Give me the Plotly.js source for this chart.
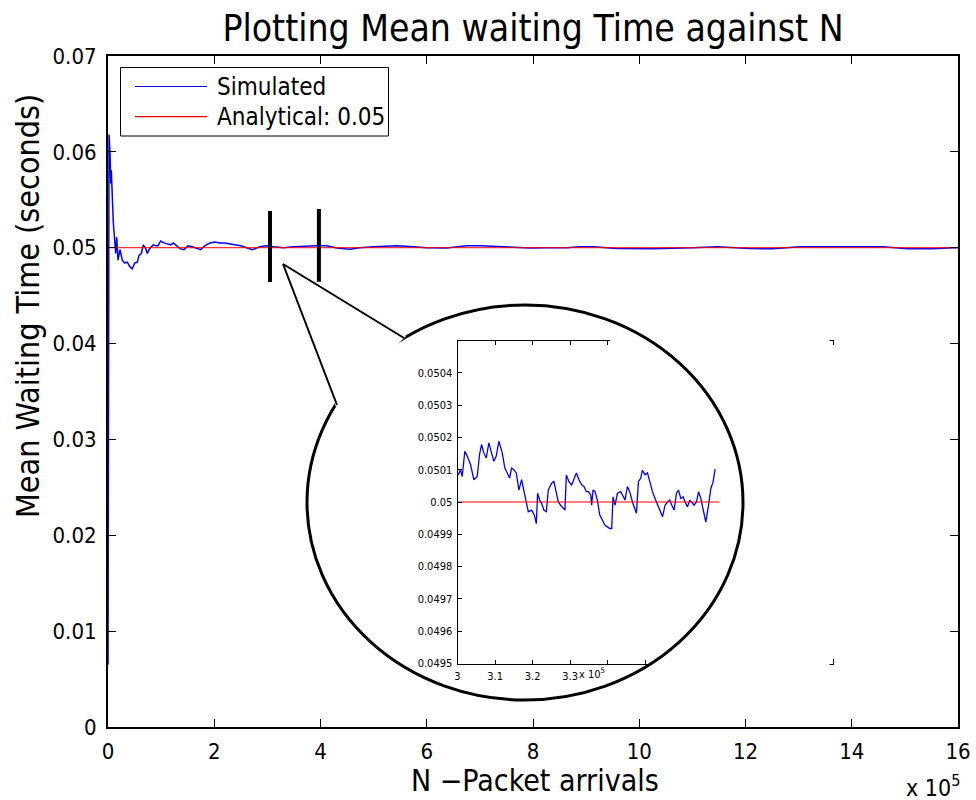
<!DOCTYPE html>
<html><head><meta charset="utf-8">
<script src="https://cdn.plot.ly/plotly-3.0.1.min.js"></script>
<style>html,body{margin:0;padding:0;background:#fff}#chart{width:976px;height:800px}</style>
</head><body><div id="chart"></div>
<script>
// ---------- data (N in units of 1e5 packets) ----------
const seriesNames = ['Simulated', 'Analytical: 0.05'];
const analyticalValue = 0.05;
const mainXRange = [0, 16];
const mainXTicks = [0, 2, 4, 6, 8, 10, 12, 14, 16];
const mainYTicks = [0, 0.01, 0.02, 0.03, 0.04, 0.05, 0.06, 0.07];
const mainYTickText = ['0', '0.01', '0.02', '0.03', '0.04', '0.05', '0.06', '0.07'];

const mainN = [0.001, 0.019, 0.038, 0.051, 0.062, 0.081, 0.100, 0.126, 0.145, 0.164,
  0.188, 0.226, 0.269, 0.314, 0.363, 0.414, 0.457, 0.503, 0.552, 0.584,
  0.627, 0.664, 0.710, 0.740, 0.772, 0.815, 0.853, 0.898, 0.941, 0.992,
  1.054, 1.116, 1.180, 1.229, 1.293, 1.355, 1.431, 1.506, 1.587, 1.670,
  1.745, 1.820, 1.920, 2.008, 2.108, 2.197, 2.296, 2.404, 2.498, 2.611,
  2.716, 2.861, 2.987, 3.111, 3.300, 3.488, 3.740, 3.928, 4.117, 4.305,
  4.555, 4.744, 4.994, 5.246, 5.434, 5.747, 5.999, 6.376, 6.752, 7.002,
  7.379, 7.693, 7.944, 8.258, 8.634, 8.885, 9.135, 9.576, 10.259, 11.012,
  11.464, 12.085, 12.518, 13.026, 13.647, 14.588, 15.040, 15.529, 15.906, 16.0];
const mainWait = [0.0065, 0.0618, 0.0599, 0.0567, 0.0581, 0.0550, 0.0526, 0.0508, 0.0494, 0.0511,
  0.0487, 0.0498, 0.0487, 0.0484, 0.0485, 0.0480, 0.0478, 0.0484, 0.0485, 0.0492,
  0.0494, 0.0503, 0.0499, 0.0494, 0.0498, 0.0501, 0.0503, 0.0502, 0.0502, 0.0507,
  0.0505, 0.0504, 0.0503, 0.0505, 0.0502, 0.0499, 0.0498, 0.0502, 0.0501, 0.0499,
  0.0498, 0.0502, 0.0505, 0.0506, 0.0505, 0.0505, 0.0504, 0.0503, 0.0502, 0.0500,
  0.0498, 0.0501, 0.0502, 0.0501, 0.0500, 0.0501, 0.0502, 0.0502, 0.0502, 0.04997,
  0.04983, 0.0500, 0.0501, 0.0502, 0.0502, 0.0501, 0.0500, 0.04997, 0.0502, 0.0502,
  0.0501, 0.04997, 0.04997, 0.0500, 0.0500, 0.0501, 0.0501, 0.04992, 0.0499, 0.0500,
  0.0501, 0.04991, 0.0499, 0.0501, 0.0501, 0.0501, 0.0499, 0.0499, 0.0500, 0.0500];

// zoomed window (inset)
const zoomXRange = [3, 4];
const zoomYRange = [0.0495, 0.0505];
const zoomXTicks = [3, 3.1, 3.2, 3.3];
const zoomXTickText = ['3', '3.1', '3.2', '3.3'];
const zoomXMinorTicks = [3.4, 3.5, 3.6, 3.7, 3.8, 3.9];
const zoomYTicks = [0.0495, 0.0496, 0.0497, 0.0498, 0.0499, 0.05, 0.0501, 0.0502, 0.0503, 0.0504];
const zoomYTickText = ['0.0495', '0.0496', '0.0497', '0.0498', '0.0499', '0.05', '0.0501', '0.0502', '0.0503', '0.0504'];
const zoomAnalyticalN = [3.0, 3.697];
const zoomN = [3.0019, 3.0080, 3.0125, 3.0195, 3.0259, 3.0347, 3.0435, 3.0525, 3.0587, 3.0640,
  3.0701, 3.0765, 3.0835, 3.0907, 3.0968, 3.1032, 3.1101, 3.1192, 3.1261, 3.1325,
  3.1387, 3.1440, 3.1501, 3.1565, 3.1635, 3.1707, 3.1768, 3.1832, 3.1885, 3.1973,
  3.2045, 3.2099, 3.2133, 3.2187, 3.2240, 3.2301, 3.2365, 3.2419, 3.2507, 3.2568,
  3.2613, 3.2685, 3.2747, 3.2808, 3.2861, 3.2899, 3.2968, 3.3040, 3.3101, 3.3165,
  3.3235, 3.3307, 3.3368, 3.3432, 3.3485, 3.3547, 3.3573, 3.3608, 3.3661, 3.3725,
  3.3787, 3.3859, 3.3928, 3.3992, 3.4053, 3.4107, 3.4141, 3.4195, 3.4259, 3.4347,
  3.4408, 3.4461, 3.4525, 3.4587, 3.4659, 3.4728, 3.4765, 3.4819, 3.4880, 3.4925,
  3.4995, 3.5059, 3.5120, 3.5192, 3.5261, 3.5325, 3.5387, 3.5459, 3.5528, 3.5592,
  3.5653, 3.5707, 3.5768, 3.5832, 3.5885, 3.5947, 3.6008, 3.6061, 3.6125, 3.6187,
  3.6240, 3.6301, 3.6365, 3.6419, 3.6480, 3.6541, 3.6613, 3.6685, 3.6747, 3.6808,
  3.6861];
const zoomWait = [0.050084, 0.050100, 0.050079, 0.050157, 0.050142, 0.050116, 0.050069, 0.050079, 0.050147, 0.050178,
  0.050152, 0.050136, 0.050183, 0.050147, 0.050126, 0.050142, 0.050188, 0.050152, 0.050105, 0.050090,
  0.050074, 0.050105, 0.050100, 0.050090, 0.050037, 0.050069, 0.050037, 0.050000, 0.049970, 0.049975,
  0.049960, 0.049933, 0.050027, 0.050006, 0.049996, 0.049975, 0.049970, 0.050037, 0.050058, 0.050063,
  0.050037, 0.050000, 0.049990, 0.049980, 0.049975, 0.050084, 0.050063, 0.050053, 0.050069, 0.050090,
  0.050069, 0.050053, 0.050048, 0.050032, 0.050032, 0.050022, 0.049990, 0.050037, 0.050032, 0.050006,
  0.049960, 0.049943, 0.049928, 0.049923, 0.049918, 0.049918, 0.050016, 0.049990, 0.050027, 0.050032,
  0.050016, 0.050006, 0.050048, 0.050032, 0.050000, 0.049980, 0.049965, 0.050063, 0.050074, 0.050098,
  0.050084, 0.050090, 0.050063, 0.050032, 0.050011, 0.049990, 0.049975, 0.049954, 0.049990, 0.050000,
  0.050006, 0.049990, 0.049975, 0.050027, 0.050037, 0.050011, 0.050016, 0.050000, 0.049985, 0.050006,
  0.050000, 0.049990, 0.050000, 0.050032, 0.050011, 0.049980, 0.049938, 0.049990, 0.050042, 0.050063,
  0.050102];

// ---------- layout helpers (pixel -> paper) ----------
const W = 976, H = 800, ML = 108, MR = 18, MT = 56, MB = 73;
const PW = W - ML - MR, PH = H - MT - MB;
const X = px => (px - ML) / PW;
const Y = py => (H - MB - py) / PH;
const FONT = '"DejaVu Sans Condensed", "DejaVu Sans", sans-serif';
const BLUE = '#0000ff', RED = '#ff0000';

const traces = [
  {x: mainN, y: mainWait, xaxis: 'x', yaxis: 'y', mode: 'lines', name: seriesNames[0],
   line: {color: BLUE, width: 1.5}, showlegend: false, hoverinfo: 'skip'},
  {x: mainXRange, y: [analyticalValue, analyticalValue], xaxis: 'x', yaxis: 'y', mode: 'lines',
   name: seriesNames[1], line: {color: RED, width: 1}, showlegend: false, hoverinfo: 'skip'},
  {x: zoomN, y: zoomWait, xaxis: 'x2', yaxis: 'y2', mode: 'lines', name: seriesNames[0],
   line: {color: BLUE, width: 1.3}, showlegend: false, hoverinfo: 'skip'},
  {x: zoomAnalyticalN, y: [analyticalValue, analyticalValue], xaxis: 'x2', yaxis: 'y2', mode: 'lines',
   name: seriesNames[1], line: {color: RED, width: 1}, showlegend: false, hoverinfo: 'skip'}
];

const axBase = {showgrid: false, zeroline: false, showline: true, linecolor: '#000', mirror: 'ticks',
  ticks: 'inside', tickcolor: '#000', fixedrange: true};

const shapes = [
  // legend box and samples
  {type: 'rect', xref: 'paper', yref: 'paper', x0: X(120.5), x1: X(388.5), y0: Y(136), y1: Y(67.5),
   line: {color: '#000', width: 1}, fillcolor: '#fff', layer: 'above'},
  {type: 'line', xref: 'paper', yref: 'paper', x0: X(135), x1: X(207), y0: Y(86.5), y1: Y(86.5),
   line: {color: BLUE, width: 1.2}, layer: 'above'},
  {type: 'line', xref: 'paper', yref: 'paper', x0: X(135), x1: X(207), y0: Y(116.7), y1: Y(116.7),
   line: {color: RED, width: 1.2}, layer: 'above'},
  // zoom window markers on main curve
  {type: 'line', xref: 'x', yref: 'y', x0: 3.05, x1: 3.05, y0: 0.04642, y1: 0.05383,
   line: {color: '#000', width: 4}, layer: 'above'},
  {type: 'line', xref: 'x', yref: 'y', x0: 3.97, x1: 3.97, y0: 0.04645, y1: 0.05404,
   line: {color: '#000', width: 4}, layer: 'above'},
  // masks hiding inset axes outside the bubble
  {type: 'rect', xref: 'paper', yref: 'paper', x0: X(610), x1: X(829.5), y0: Y(348), y1: Y(335),
   line: {width: 0}, fillcolor: '#fff', layer: 'above'},
  {type: 'rect', xref: 'paper', yref: 'paper', x0: X(827), x1: X(842), y0: Y(659), y1: Y(345),
   line: {width: 0}, fillcolor: '#fff', layer: 'above'},
  {type: 'rect', xref: 'paper', yref: 'paper', x0: X(651), x1: X(829.5), y0: Y(670), y1: Y(656),
   line: {width: 0}, fillcolor: '#fff', layer: 'above'},
  // bubble
  {type: 'circle', xref: 'paper', yref: 'paper', x0: X(307), x1: X(743), y0: Y(700), y1: Y(305),
   line: {color: '#000', width: 3}, layer: 'above'},
  // pointer (white wedge hides the arc, then two edges)
  {type: 'path', xref: 'paper', yref: 'paper',
   path: `M ${X(283)},${Y(264)} L ${X(336)},${Y(407)} L ${X(406)},${Y(336)} Z`,
   line: {width: 0}, fillcolor: '#fff', layer: 'above'},
  {type: 'line', xref: 'paper', yref: 'paper', x0: X(283), y0: Y(264), x1: X(337), y1: Y(405),
   line: {color: '#000', width: 2}, layer: 'above'},
  {type: 'line', xref: 'paper', yref: 'paper', x0: X(283), y0: Y(264), x1: X(404), y1: Y(338),
   line: {color: '#000', width: 2}, layer: 'above'}
];

const annotations = [
  {xref: 'paper', yref: 'paper', x: X(215), y: Y(87), xanchor: 'left', yanchor: 'middle', showarrow: false,
   text: seriesNames[0], font: {family: FONT, size: 24, color: '#000'}},
  {xref: 'paper', yref: 'paper', x: X(215), y: Y(117), xanchor: 'left', yanchor: 'middle', showarrow: false,
   text: seriesNames[1], font: {family: FONT, size: 24, color: '#000'}},
  // axis titles (placed as in the reference)
  {xref: 'paper', yref: 'paper', x: X(535), y: Y(780), xanchor: 'center', yanchor: 'middle', showarrow: false,
   text: 'N \u2212Packet arrivals', font: {family: FONT, size: 30, color: '#000'}},
  {xref: 'paper', yref: 'paper', x: X(28), y: Y(306), xanchor: 'center', yanchor: 'middle', showarrow: false,
   textangle: -90, text: 'Mean Waiting Time (seconds)', font: {family: FONT, size: 32, color: '#000'}},
  {xref: 'paper', yref: 'paper', x: X(933), y: Y(786), xanchor: 'center', yanchor: 'middle', showarrow: false,
   text: 'x 10<sup>5</sup>', font: {family: FONT, size: 23, color: '#000'}},
  {xref: 'paper', yref: 'paper', x: X(592), y: Y(673), xanchor: 'center', yanchor: 'middle', showarrow: false,
   text: 'x 10<sup>5</sup>', font: {family: FONT, size: 11, color: '#000'}}
];

const layout = {
  width: W, height: H,
  margin: {l: ML, r: MR, t: MT, b: MB, pad: 0},
  paper_bgcolor: '#fff', plot_bgcolor: 'rgba(0,0,0,0)',
  showlegend: false,
  font: {family: FONT, color: '#000'},
  title: {text: 'Plotting Mean waiting Time against N', font: {family: FONT, size: 37, color: '#000'},
          xref: 'paper', x: 0.5, xanchor: 'center', yref: 'container', y: 1 - 28 / H, yanchor: 'middle'},
  xaxis: Object.assign({}, axBase, {domain: [0, 1], anchor: 'y', range: mainXRange, tickvals: mainXTicks,
    ticklen: 8, tickwidth: 1, linewidth: 2, tickfont: {family: FONT, size: 22}, ticklabelstandoff: 4}),
  yaxis: Object.assign({}, axBase, {domain: [0, 1], anchor: 'x', range: [0, 0.07], tickvals: mainYTicks,
    ticktext: mainYTickText, ticklen: 8, tickwidth: 1, linewidth: 2, tickfont: {family: FONT, size: 22},
    ticklabelstandoff: 5}),
  xaxis2: Object.assign({}, axBase, {domain: [X(457.5), X(833)], anchor: 'y2', range: zoomXRange,
    tickvals: zoomXTicks, ticktext: zoomXTickText, ticklen: 4, tickwidth: 1, linewidth: 1,
    minor: {tickvals: zoomXMinorTicks, ticks: 'inside', ticklen: 4, tickcolor: '#000', tickwidth: 1, showgrid: false},
    tickfont: {family: FONT, size: 11}, ticklabelstandoff: 2}),
  yaxis2: Object.assign({}, axBase, {domain: [Y(663.5), Y(340.5)], anchor: 'x2', range: zoomYRange,
    tickvals: zoomYTicks, ticktext: zoomYTickText, ticklen: 4, tickwidth: 1, linewidth: 1,
    tickfont: {family: FONT, size: 11}, ticklabelstandoff: 2}),
  shapes: shapes,
  annotations: annotations
};

Plotly.newPlot('chart', traces, layout, {staticPlot: true, displayModeBar: false});
</script>
</body></html>
